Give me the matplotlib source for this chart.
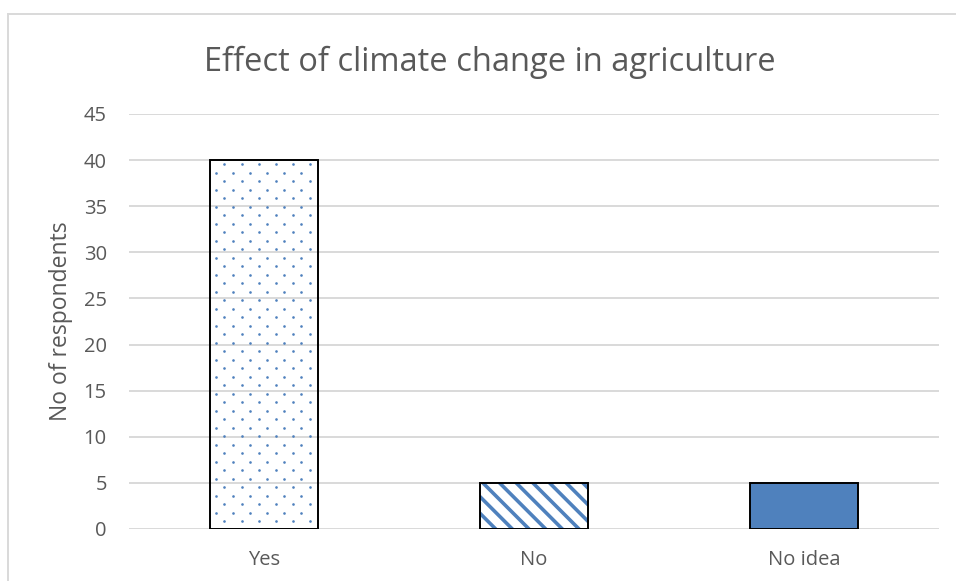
import numpy as np
import matplotlib
matplotlib.use("Agg")
import matplotlib.pyplot as plt
from matplotlib.lines import Line2D

categories = ["Yes", "No", "No idea"]
respondents = [40, 5, 5]
y_ticks = [0, 5, 10, 15, 20, 25, 30, 35, 40, 45]

title = "Effect of climate change in agriculture"
y_label = "No of respondents"

blue = "#4f81bd"
grid_grey = "#d9d9d9"
text_grey = "#595959"

plt.rcParams["font.family"] = ["Open Sans", "DejaVu Sans"]
plt.rcParams["hatch.linewidth"] = 2.6

fig = plt.figure(figsize=(9.56, 5.81), dpi=100)
ax = fig.add_axes([129 / 956, 1 - 529 / 581, 810 / 956, 415 / 581])

x = np.arange(len(categories))
bar_width = 0.4
bars = ax.bar(x, respondents, width=bar_width, edgecolor="black",
              linewidth=1.4, zorder=4)

# Bar styles: dotted, striped, solid
bars[0].set_facecolor("none")
bars[1].set_facecolor("none")
bars[2].set_facecolor(blue)

# Blue diagonal stripes under the black outline of the "No" bar
ax.bar(x[1], respondents[1], width=bar_width, facecolor="white",
       edgecolor=blue, linewidth=0, hatch="\\\\", zorder=3)

ax.set_xlim(-0.5, len(categories) - 0.5)
ax.set_ylim(0, 45)
ax.set_yticks(y_ticks)
ax.set_xticks(x)
ax.set_xticklabels(categories)
ax.tick_params(axis="both", length=0, labelsize=14.5, labelcolor=text_grey)
ax.tick_params(axis="y", pad=16)
ax.tick_params(axis="x", pad=15)
for s in ax.spines.values():
    s.set_visible(False)
ax.yaxis.grid(True, color=grid_grey, linewidth=1.4, zorder=0)
ax.set_axisbelow(True)

ax.set_ylabel(y_label, fontsize=16.5, color=text_grey, va="center")
ax.yaxis.set_label_coords((61 - 129) / 810, 0.5)

# Staggered dot texture on the first bar, laid out in pixel space
fig.canvas.draw()
bar = bars[0]
x0, y_bot = ax.transData.transform((bar.get_x(), 0))
x1, y_top = ax.transData.transform((bar.get_x() + bar.get_width(), bar.get_height()))
col_step, row_step = 17.0, 8.5
pts = []
for i, yy in enumerate(np.arange(y_top - 4.3, y_bot, -row_step)):
    start = x0 + 6.0 + (col_step / 2 if i % 2 == 0 else 0.0)
    for xx in np.arange(start, x1 - 1, col_step):
        pts.append((xx, yy))
pts = ax.transData.inverted().transform(np.array(pts))
dots = ax.scatter(pts[:, 0], pts[:, 1], s=3.6, color=blue, linewidths=0,
                  zorder=3.5)
dots.set_clip_path(bar)

fig.text(490 / 956, 1 - 62 / 581, title, ha="center", va="center",
         fontsize=23.5, color=text_grey)

# Chart frame (left and top edges)
frame_kw = dict(color=grid_grey, linewidth=1.4, transform=None)
fig.add_artist(Line2D([8, 8], [0, 581 - 14], **frame_kw))
fig.add_artist(Line2D([8, 956], [581 - 14, 581 - 14], **frame_kw))

fig.savefig("out.png", dpi=100)
